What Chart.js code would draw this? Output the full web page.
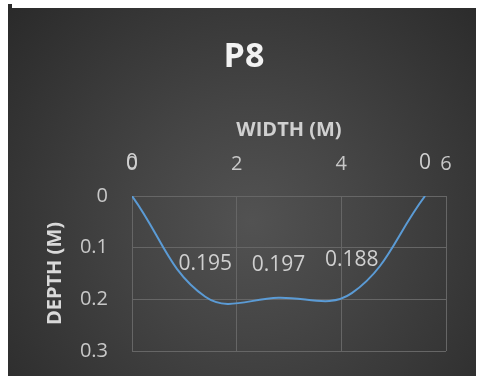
<!DOCTYPE html>
<html>
<head>
<meta charset="utf-8">
<title>P8</title>
<script src="https://cdn.jsdelivr.net/npm/chart.js@4.4.1/dist/chart.umd.min.js"></script>
<style>
  html, body { margin: 0; padding: 0; background: #ffffff; }
  #wrap {
    position: absolute; left: 8px; top: 8px; width: 468px; height: 368px;
    background: radial-gradient(circle farthest-corner at 52% 58%, #525252 0%, #454545 35%, #2a2a2a 100%);
  }
  #nub { position: absolute; left: 8px; top: 4px; width: 4px; height: 4px; background: #2b2b2b; }
</style>
</head>
<body>
<div id="nub"></div>
<div id="wrap"><canvas id="chart" width="468" height="368"></canvas></div>

<script type="text/javascript">
  // section P8: width along the section (m) and depth (m)
  var widthM = [0, 1.4, 2.8, 4.2, 5.6];
  var depthM = [0, 0.195, 0.197, 0.188, 0];
  var xTickLabels = ['0', '2', '4', '6'];
  var yTickLabels = ['0', '0.1', '0.2', '0.3'];

  var FONT = "'Open Sans', 'DejaVu Sans', sans-serif";

  var points = [];
  for (var i = 0; i < widthM.length; i++) {
    points.push({x: widthM[i], y: depthM[i]});
  }

  // value labels sit above each point, like the excel ones
  var valueLabels = {
    id: 'valueLabels',
    afterDatasetsDraw: function(chart) {
      var ctx = chart.ctx;
      var meta = chart.getDatasetMeta(0);
      ctx.save();
      ctx.font = '21px ' + FONT;
      ctx.fillStyle = '#d0d0d0';
      ctx.textAlign = 'center';
      ctx.textBaseline = 'middle';
      meta.data.forEach(function(pt, idx) {
        ctx.fillText(String(depthM[idx]), pt.x, pt.y - 33);
      });
      ctx.restore();
    }
  };

  Chart.defaults.color = '#c8c8c8';

  var myChart = new Chart(document.getElementById('chart'), {
    type: 'line',
    data: {
      datasets: [{
        data: points,
        borderColor: '#5b9bd5',
        borderWidth: 2,
        pointRadius: 0,
        tension: 0.4,
        fill: false
      }]
    },
    options: {
      responsive: false,
      animation: false,
      layout: { padding: { left: 34, top: 0, right: 30, bottom: 25 } },
      plugins: {
        legend: { display: false },
        tooltip: { enabled: false },
        title: {
          display: true,
          text: 'P8',
          color: '#f2f2f2',
          font: { family: FONT, size: 34, weight: 'bold' },
          padding: { top: 28.8, bottom: 8.8 }
        }
      },
      scales: {
        x: {
          type: 'linear',
          position: 'top',
          min: 0, max: 6,
          afterFit: function(scale) { scale.height = 109.6; },
          grid: { color: '#666666', lineWidth: 1, drawTicks: false },
          border: { color: '#666666' },
          ticks: {
            stepSize: 2,
            padding: 20,
            color: '#c8c8c8',
            font: { family: FONT, size: 20 },
            callback: function(v) { return xTickLabels[Math.round(v / 2)]; }
          },
          title: {
            display: true,
            text: 'WIDTH (M)',
            color: '#d0d0d0',
            font: { family: FONT, size: 20, weight: 'bold' },
            padding: { top: 31.6, bottom: 0 }
          }
        },
        y: {
          type: 'linear',
          reverse: true,
          min: 0, max: 0.3,
          afterFit: function(scale) {
            scale.width = 90;
            // tick padding would otherwise push the plot bottom up
            scale.paddingTop = 0;
            scale.paddingBottom = 0;
          },
          grid: { color: '#666666', lineWidth: 1, drawTicks: false },
          border: { color: '#666666' },
          ticks: {
            stepSize: 0.1,
            padding: 24,
            color: '#c8c8c8',
            font: { family: FONT, size: 20 },
            callback: function(v) { return yTickLabels[Math.round(v / 0.1)]; }
          },
          title: {
            display: true,
            text: 'DEPTH (M)',
            color: '#d9d9d9',
            font: { family: FONT, size: 20, weight: 'bold' },
            padding: { top: 1, bottom: 0 }
          }
        }
      }
    },
    plugins: [valueLabels]
  });
</script>
</body>
</html>
